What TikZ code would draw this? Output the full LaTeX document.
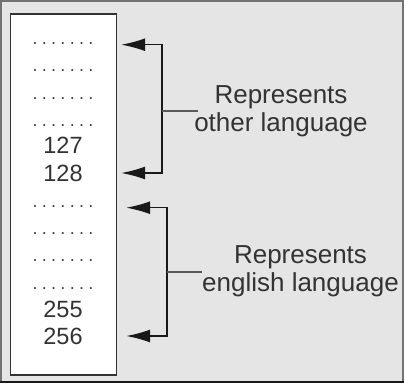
\documentclass[tikz,border=0pt]{standalone}
\usepackage{fontspec}
\setmainfont{Liberation Sans}
\usetikzlibrary{positioning,calc,arrows.meta}
\tikzset{
  cell/.style={anchor=base,inner sep=0pt,text height=17pt,text depth=0pt,
    minimum width=116pt,text=black!80,font=\fontsize{23.5}{28}\selectfont},
  pointer/.style={draw=black!90,line width=1.4pt,-{Latex[length=24pt,width=13pt]}},
  stub/.style={draw=black!65,line width=1.4pt},
  caption/.style={align=center,inner sep=0pt,text=black!80,
    font=\fontsize{26}{28}\selectfont},
}
\newcommand{\rowdots}{{\fontsize{18}{20}\selectfont\color{black!75}\addfontfeature{LetterSpace=24}.......}}
\begin{document}
\begin{tikzpicture}[x=1pt,y=-1pt]
	\useasboundingbox (0,0) rectangle (404,383);
	% frame and table
	\draw[fill=black!10,draw=black!55,line width=2pt] (1,1) rectangle (403,382);
	\draw[black!90,line width=2pt] (0,381.5) -- (404,381.5);
	\draw[fill=white,draw=black!80,line width=1.6pt] (10.5,14) rectangle (116.5,375);
	% rows
	\foreach \n/\y/\t in {1/44.5/\rowdots,2/71.5/\rowdots,3/99.5/\rowdots,4/126.5/\rowdots,
		5/153.5/127,6/181.5/128,7/207.5/\rowdots,8/234.5/\rowdots,9/261.5/\rowdots,
		10/289.5/\rowdots,11/317.5/255,12/344.5/256}
		\node[cell] (r\n) at (63,\y) {\t};
	% other language
	\coordinate (j1) at (162,111);
	\coordinate (e1) at (198,111);
	\node[caption] (c1) at (281,111) {Represents\\other language};
	\draw[pointer] (j1) |- (r1.south east);
	\draw[pointer] (j1) |- (r6.east);
	\draw[stub] (j1) -- (e1);
	% english language
	\coordinate (j2) at (167,272);
	\coordinate (e2) at (202,272);
	\node[caption] (c2) at (300.5,271.5) {Represents\\english language};
	\draw[pointer] (j2) |- ([xshift=5pt]r7.south east);
	\draw[pointer] (j2) |- ([xshift=5pt]r12.east);
	\draw[stub] (j2) -- (e2);
\end{tikzpicture}
\end{document}
